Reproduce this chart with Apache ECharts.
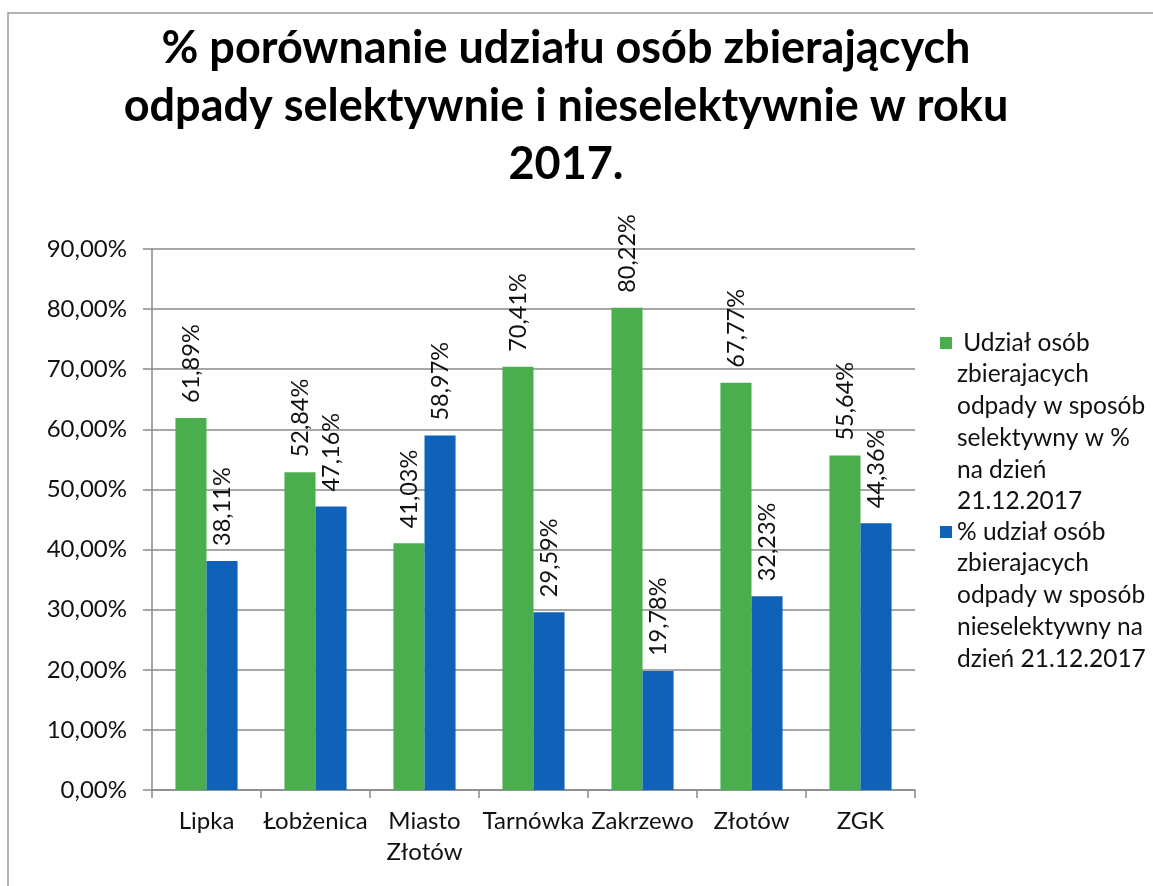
<!DOCTYPE html>
<html>
<head>
<meta charset="utf-8">
<script src="https://cdn.jsdelivr.net/npm/echarts@6/dist/echarts.min.js"></script>
<style>
  html, body { margin: 0; padding: 0; background: #fff; }
  #chart { width: 1153px; height: 886px; }
</style>
</head>
<body>
<div id="chart"></div>
<script>
// dane
var categories = ['Lipka', 'Łobżenica', 'Miasto\nZłotów', 'Tarnówka', 'Zakrzewo', 'Złotów', 'ZGK'];
var selektywnie = [61.89, 52.84, 41.03, 70.41, 80.22, 67.77, 55.64];
var nieselektywnie = [38.11, 47.16, 58.97, 29.59, 19.78, 32.23, 44.36];
var seriesNames = [
  'Udział osób zbierajacych odpady w sposób selektywny w % na dzień 21.12.2017',
  '% udział osób zbierajacych odpady w sposób nieselektywny na dzień 21.12.2017'
];
var legendLines = [
  [' Udział osób', 'zbierajacych', 'odpady w sposób', 'selektywny w %', 'na dzień', '21.12.2017'],
  ['% udział osób', 'zbierajacych', 'odpady w sposób', 'nieselektywny na', 'dzień 21.12.2017']
];
var titleText = '% porównanie udziału osób zbierających\nodpady selektywnie i nieselektywnie w roku\n2017.';

var FONT = 'Lato';
var LH = 31.7;

function pct(v) {
  return v.toFixed(2).replace('.', ',') + '%';
}

// ikona legendy: kwadrat przy pierwszej linii tekstu
function legendIcon(lines) {
  var h = lines * LH;
  return 'path://M0,0h0M0,10h12v12h-12zM0,' + h + 'h0';
}

function makeLegend(i, top) {
  return {
    left: 940,
    top: top,
    padding: 0,
    orient: 'vertical',
    selectedMode: false,
    itemWidth: 12,
    itemHeight: legendLines[i].length * LH,
    icon: legendIcon(legendLines[i].length),
    data: [seriesNames[i]],
    formatter: function () { return legendLines[i].join('\n'); },
    textStyle: { fontFamily: FONT, fontSize: 24.5, color: '#111', lineHeight: LH }
  };
}

var chart = echarts.init(document.getElementById('chart'));

var labelOpt = {
  show: true,
  position: 'top',
  rotate: 90,
  align: 'left',
  verticalAlign: 'middle',
  distance: 15,
  fontFamily: FONT,
  fontSize: 23.5,
  color: '#111',
  formatter: function (p) { return pct(p.value); }
};

chart.setOption({
  animation: false,
  backgroundColor: '#fff',
  graphic: [
    {
      type: 'rect',
      shape: { x: 8, y: 13, width: 1160, height: 900 },
      style: { fill: 'none', stroke: '#9a9a9a', lineWidth: 1.5 },
      silent: true
    },
    {
      type: 'text',
      x: 566,
      y: 19,
      style: {
        text: titleText,
        fontFamily: FONT,
        fontWeight: 'bold',
        fontSize: 45,
        lineHeight: 58,
        align: 'center',
        verticalAlign: 'top',
        fill: '#000'
      }
    }
  ],
  legend: [makeLegend(0, 327), makeLegend(1, 516)],
  grid: { left: 152, right: 238, top: 249, bottom: 96, containLabel: false, outerBoundsMode: 'none' },
  xAxis: {
    type: 'category',
    data: categories,
    axisLine: { lineStyle: { color: '#8a8a8a', width: 1.5 } },
    axisTick: { show: true, length: 8, interval: 0, lineStyle: { color: '#8a8a8a', width: 1.5 } },
    axisLabel: {
      interval: 0,
      margin: 16,
      fontFamily: FONT,
      fontSize: 24,
      lineHeight: 31,
      color: '#111'
    }
  },
  yAxis: {
    type: 'value',
    min: 0,
    max: 90,
    interval: 10,
    axisLine: { show: true, lineStyle: { color: '#8a8a8a', width: 1.5 } },
    axisTick: { show: true, length: 9, lineStyle: { color: '#8a8a8a', width: 1.5 } },
    axisLabel: {
      margin: 25,
      fontFamily: FONT,
      fontSize: 24,
      color: '#111',
      formatter: function (v) { return pct(v); }
    },
    splitLine: { lineStyle: { color: '#8a8a8a', width: 1.5 } }
  },
  series: [
    {
      name: seriesNames[0],
      type: 'bar',
      data: selektywnie,
      barGap: '0%',
      barCategoryGap: '43%',
      itemStyle: { color: '#4aae4e' },
      label: labelOpt
    },
    {
      name: seriesNames[1],
      type: 'bar',
      data: nieselektywnie,
      barGap: '0%',
      barCategoryGap: '43%',
      itemStyle: { color: '#1062b8' },
      label: labelOpt
    }
  ]
});
</script>
</body>
</html>
